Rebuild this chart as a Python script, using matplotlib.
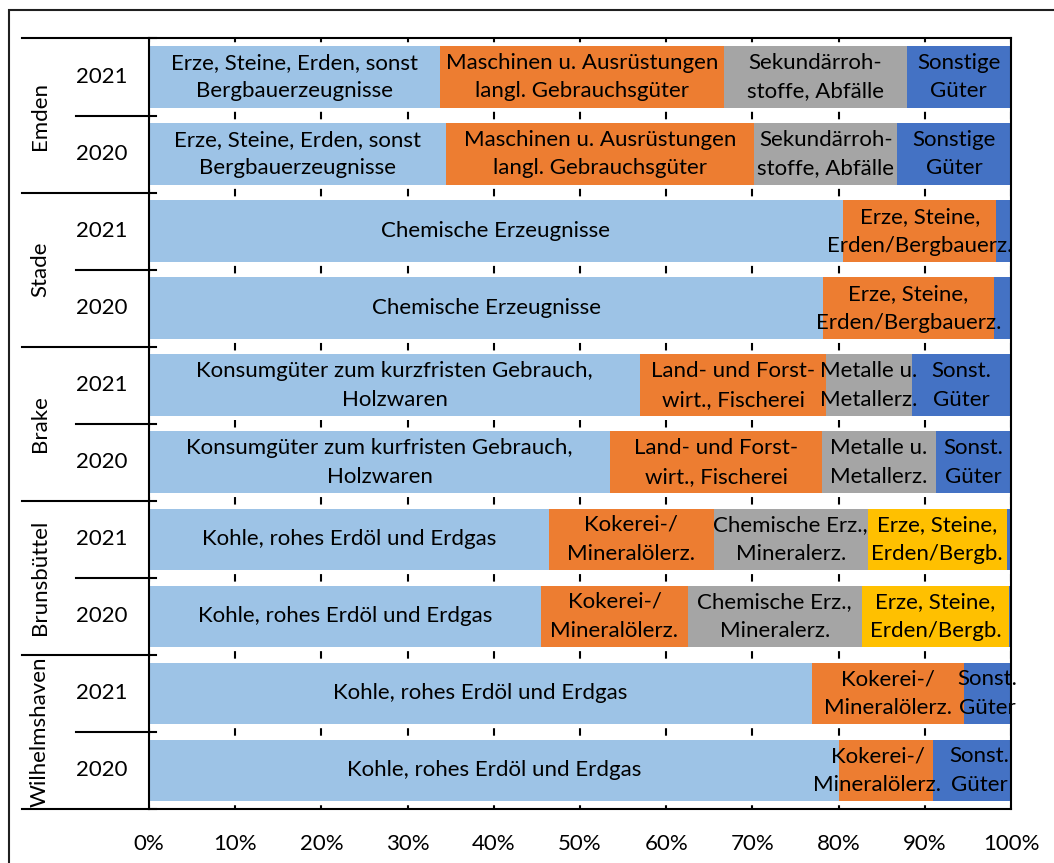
import matplotlib
matplotlib.use("Agg")
import matplotlib.pyplot as plt
import matplotlib.transforms as mtransforms
from matplotlib.lines import Line2D
from matplotlib.patches import Rectangle

plt.rcParams['font.family'] = ['Lato', 'DejaVu Sans']
plt.rcParams['lines.scale_dashes'] = False

# ---- data (rows top to bottom) ----
ports = ["Emden", "Stade", "Brake", "Brunsbüttel", "Wilhelmshaven"]
years = ["2021", "2020"]

s1 = [33.8, 34.5, 80.5, 78.2, 57.0, 53.5, 46.4, 45.5, 76.9, 80.1]
s2 = [32.9, 35.7, 17.8, 19.8, 21.5, 24.6, 19.1, 17.0, 17.6, 10.9]
s3 = [21.2, 16.6, 0.0, 0.0, 10.0, 13.2, 17.9, 20.2, 0.0, 0.0]
s4 = [0.0, 0.0, 0.0, 0.0, 0.0, 0.0, 16.1, 17.1, 0.0, 0.0]
s5 = [12.1, 13.2, 1.7, 2.0, 11.5, 8.7, 0.5, 0.2, 5.5, 9.0]

l1 = ["Erze, Steine, Erden, sonst\nBergbauerzeugnisse",
      "Erze, Steine, Erden, sonst\nBergbauerzeugnisse",
      "Chemische Erzeugnisse", "Chemische Erzeugnisse",
      "Konsumgüter zum kurzfristen Gebrauch,\nHolzwaren",
      "Konsumgüter zum kurfristen Gebrauch,\nHolzwaren",
      "Kohle, rohes Erdöl und Erdgas", "Kohle, rohes Erdöl und Erdgas",
      "Kohle, rohes Erdöl und Erdgas", "Kohle, rohes Erdöl und Erdgas"]
l2 = ["Maschinen u. Ausrüstungen\nlangl. Gebrauchsgüter",
      "Maschinen u. Ausrüstungen\nlangl. Gebrauchsgüter",
      "Erze, Steine,\nErden/Bergbauerz.", "Erze, Steine,\nErden/Bergbauerz.",
      "Land- und Forst-\nwirt., Fischerei", "Land- und Forst-\nwirt., Fischerei",
      "Kokerei-/\nMineralölerz.", "Kokerei-/\nMineralölerz.",
      "Kokerei-/\nMineralölerz.", "Kokerei-/\nMineralölerz."]
l3 = ["Sekundärroh-\nstoffe, Abfälle", "Sekundärroh-\nstoffe, Abfälle",
      "", "",
      "Metalle u.\nMetallerz.", "Metalle u.\nMetallerz.",
      "Chemische Erz.,\nMineralerz.", "Chemische Erz.,\nMineralerz.",
      "", ""]
l4 = ["", "", "", "", "", "",
      "Erze, Steine,\nErden/Bergb.", "Erze, Steine,\nErden/Bergb.",
      "", ""]
l5 = ["Sonstige\nGüter", "Sonstige\nGüter", "", "",
      "Sonst.\nGüter", "Sonst.\nGüter", "", "",
      "Sonst.\nGüter", "Sonst.\nGüter"]

xticks = [0, 10, 20, 30, 40, 50, 60, 70, 80, 90, 100]
xticklabels = [f"{v}%" for v in xticks]

series = [s1, s2, s3, s4, s5]
labels = [l1, l2, l3, l4, l5]
colors = ["#9DC3E6", "#ED7D31", "#A5A5A5", "#FFC000", "#4472C4"]

# small manual label nudges (pixels), like the hand-placed labels of the original
nudge_px = {(1, 9): -9, (4, 9): 7}

W, H = 1054, 863
fig = plt.figure(figsize=(W / 100, H / 100), dpi=100)
AX_L, AX_R, AX_T, AX_B = 149, 1011, 38.5, 809
ax = fig.add_axes([AX_L / W, 1 - AX_B / H, (AX_R - AX_L) / W, (AX_B - AX_T) / H])

n = len(s1)
ypos = list(range(n))
left = [0.0] * n
FS = 16
for si, (vals, labs, col) in enumerate(zip(series, labels, colors)):
    ax.barh(ypos, vals, left=left, height=0.8, color=col, zorder=2)
    for i in range(n):
        if vals[i] > 0 and labs[i]:
            t = ax.text(left[i] + vals[i] / 2, ypos[i], labs[i], ha="center", va="center",
                        fontsize=FS, color="black", zorder=4, linespacing=1.55)
            dx = nudge_px.get((si, i), 0)
            if dx:
                t.set_transform(ax.transData + mtransforms.Affine2D().translate(dx, 0))
    left = [a + b for a, b in zip(left, vals)]

ax.set_xlim(0, 100)
ax.set_ylim(n - 0.5, -0.5)
ax.set_xticks(xticks)
ax.set_xticklabels(xticklabels, fontsize=FS)
ax.tick_params(axis="x", length=0, pad=18)
ax.set_yticks([])

# dashed gridlines whose dashes fall into the gaps between bars
row_px = (AX_B - AX_T) / n
px2pt = 72 / 100
dash_on = 7.5
ax.grid(axis="x", color="black", linewidth=1.5, zorder=1,
        linestyle=(dash_on / 2 * px2pt, (dash_on * px2pt, (row_px - dash_on) * px2pt)))
ax.set_axisbelow(True)
for sp in ax.spines.values():
    sp.set_color("black")
    sp.set_linewidth(1.5)
    sp.set_zorder(5)

# multi-level category axis
trans = mtransforms.blended_transform_factory(ax.transAxes, ax.transData)
def fx(px):
    return (px - AX_L) / (AX_R - AX_L)

for k in range(n + 1):
    y = k - 0.5
    x0 = fx(22) if k % 2 == 0 else fx(76)
    ax.add_line(Line2D([x0, fx(156)], [y, y], transform=trans, color="black",
                       linewidth=1.5, clip_on=False, zorder=6))
for i in range(n):
    ax.text(fx(102), i, years[i % 2], transform=trans, ha="center", va="center",
            fontsize=FS, clip_on=False)
for g, p in enumerate(ports):
    ax.text(fx(40), 2 * g + 0.5, p, transform=trans, ha="center", va="center",
            rotation=90, fontsize=FS, clip_on=False)

# outer frame
fig.patches.append(Rectangle((9 / W, -0.05), 1.2, 1 - 10 / H + 0.05, transform=fig.transFigure,
                             fill=False, edgecolor="#202020", linewidth=1.5))

fig.savefig("out.png", dpi=100)
